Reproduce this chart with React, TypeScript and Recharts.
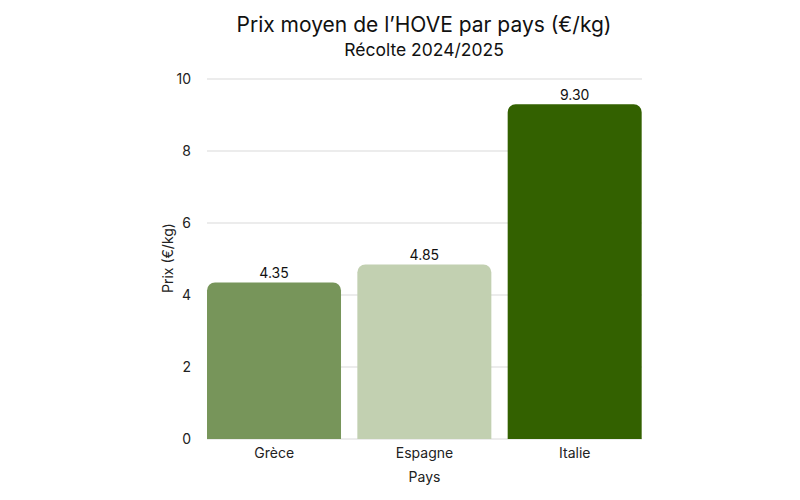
import { BarChart, Bar, XAxis, YAxis, CartesianGrid, Cell, LabelList } from "recharts";

const pays = ["Grèce", "Espagne", "Italie"];
const prix = [4.35, 4.85, 9.3];
const couleurs = ["#77955a", "#c2d0b1", "#336100"];
const yTicks = [0, 2, 4, 6, 8, 10];

const data = pays.map((p, i) => ({ pays: p, prix: prix[i] }));

const font = "Inter, 'Noto Sans', sans-serif";

export default function App() {
  return (
    <div style={{ position: "absolute", left: 0, top: 0, width: 800, height: 500, background: "#fff", fontFamily: font }}>
      <div style={{ position: "absolute", top: 12, left: 24, width: 800, textAlign: "center", fontSize: 21, color: "#111" }}>
        Prix moyen de l’HOVE par pays (€/kg)
      </div>
      <div style={{ position: "absolute", top: 39, left: 24, width: 800, textAlign: "center", fontSize: 17.5, color: "#111" }}>
        Récolte 2024/2025
      </div>
      <BarChart
        width={800}
        height={500}
        data={data}
        margin={{ top: 79, right: 158, left: 147, bottom: 0 }}
        barCategoryGap="5.33%"
        style={{ fontFamily: font }}
      >
        <CartesianGrid vertical={false} stroke="#d9d9d9" />
        <XAxis
          dataKey="pays"
          axisLine={false}
          tickLine={false}
          padding={{ left: -8, right: -8 }}
          tick={{ fontSize: 14, fill: "#222" }}
          height={61}
          tickMargin={3}
          label={{ value: "Pays", position: "insideBottom", offset: 18, fontSize: 14, fill: "#222" }}
        />
        <YAxis
          type="number"
          domain={[0, 10]}
          ticks={yTicks}
          axisLine={false}
          tickLine={false}
          width={60}
          tickMargin={10}
          tick={{ fontSize: 14, fill: "#222" }}
          label={{ value: "Prix (€/kg)", angle: -90, position: "insideLeft", offset: 21, dy: 34, fontSize: 14, fill: "#222" }}
        />
        <Bar dataKey="prix" radius={[8, 8, 0, 0]} isAnimationActive={false}>
          {data.map((d, i) => (
            <Cell key={d.pays} fill={couleurs[i]} />
          ))}
          <LabelList
            dataKey="prix"
            position="top"
            offset={4}
            formatter={(v: number) => v.toFixed(2)}
            style={{ fontSize: 14, fill: "#111" }}
          />
        </Bar>
      </BarChart>
    </div>
  );
}
